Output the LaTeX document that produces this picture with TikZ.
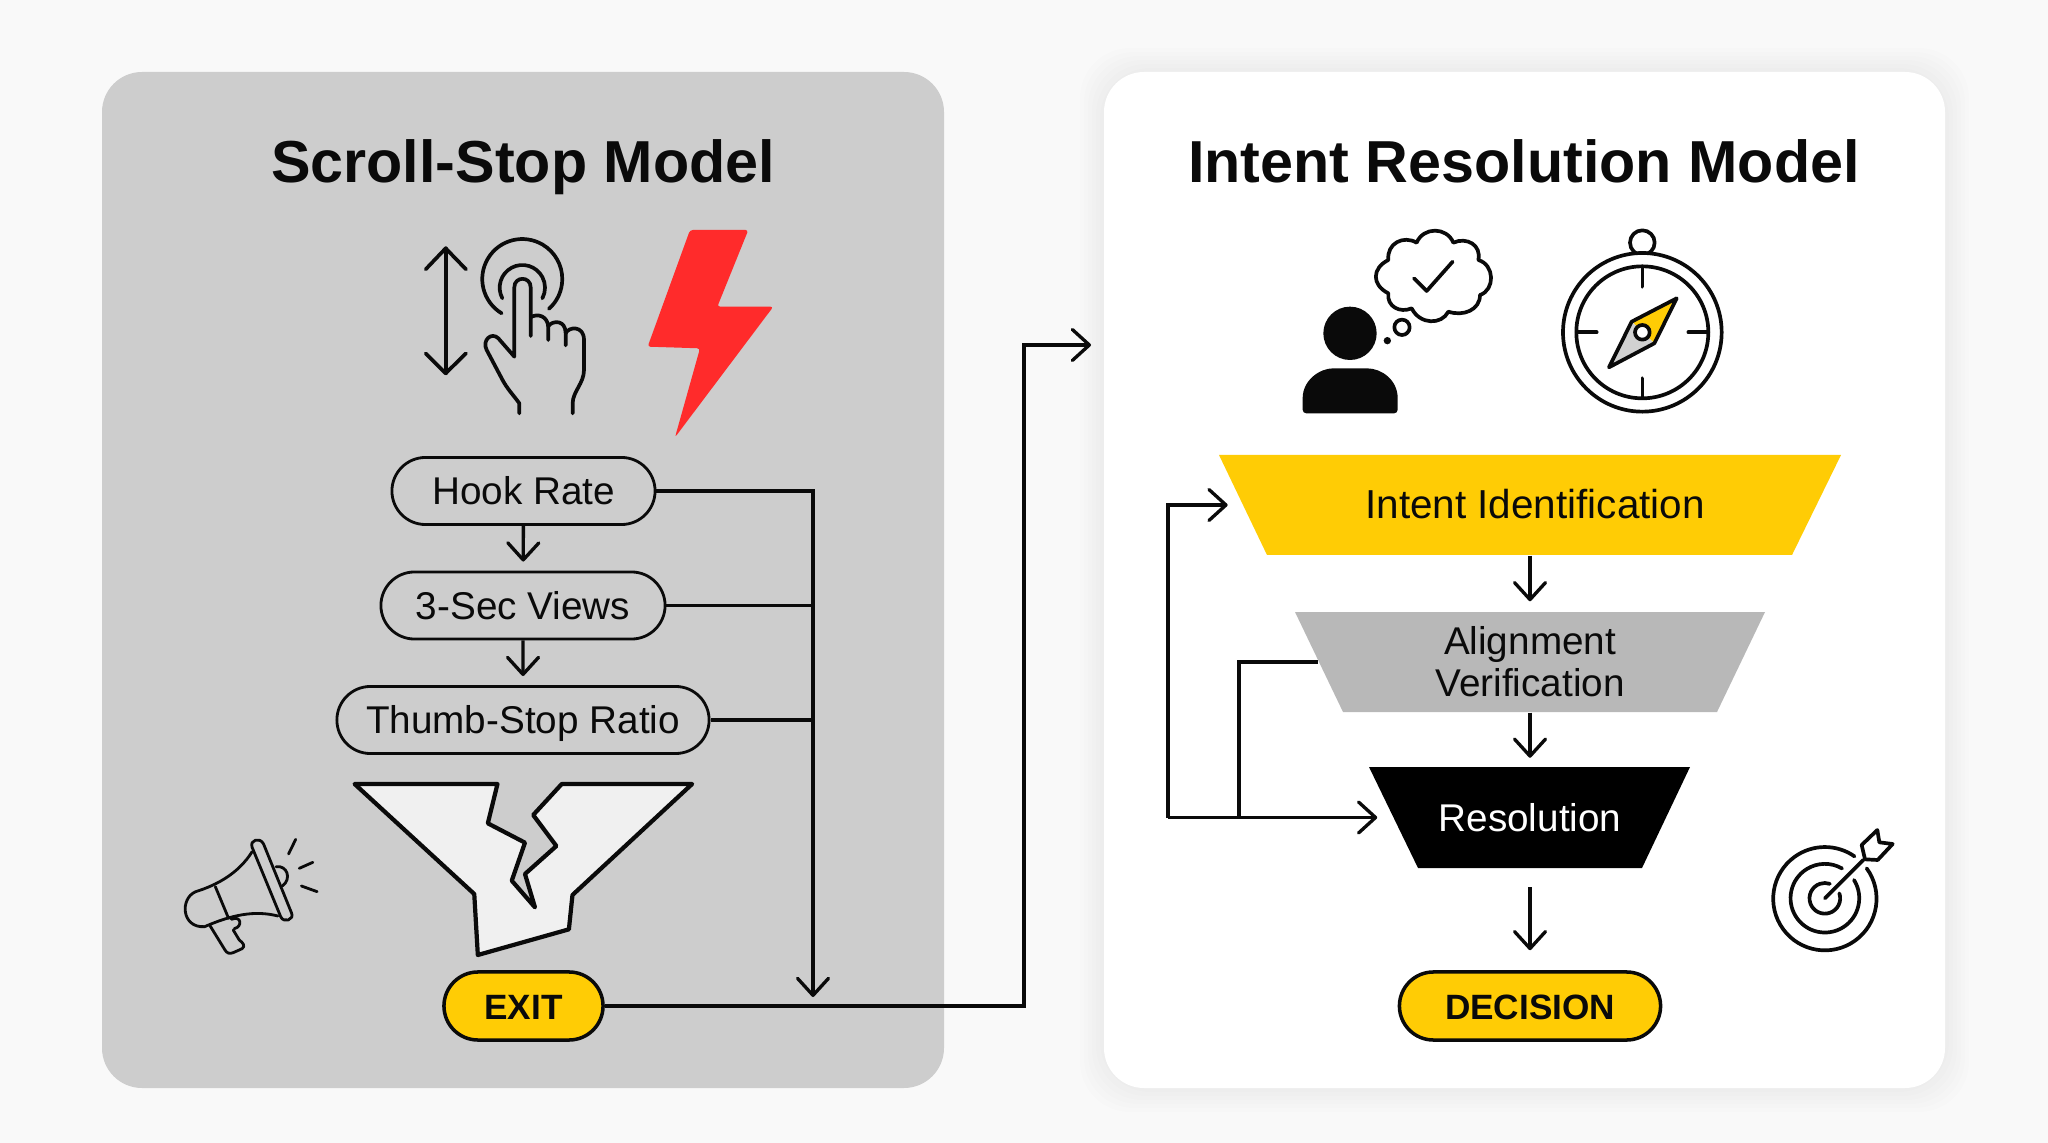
\documentclass[tikz,border=0pt]{standalone}
\usepackage{fontspec}
\setmainfont{Liberation Sans}
\usetikzlibrary{arrows.meta,shapes.misc}
\definecolor{pagebg}{HTML}{F9F9F9}
\definecolor{panelgray}{HTML}{CDCDCD}
\definecolor{signyellow}{HTML}{FFCC05}
\definecolor{midgray}{HTML}{B8B8B8}
\definecolor{boltred}{HTML}{FF2B2B}
\definecolor{ink}{HTML}{0A0A0A}
\tikzset{
  panel/.style={rounded corners=4mm},
  heading/.style={anchor=base,text=ink,font=\fontsize{16.85}{20}\selectfont\bfseries},
  pill/.style={rounded rectangle,draw=ink,line width=.8pt,inner sep=0pt,minimum height=.67cm,text=ink,
    text height=.27cm,text depth=0pt,font=\fontsize{11}{13}\selectfont},
  endpill/.style={pill,fill=signyellow,line width=1pt,font=\fontsize{10}{12}\selectfont\bfseries},
  stage/.style={minimum height=1cm,inner sep=0pt,align=center,text=ink,font=\fontsize{11}{11.9}\selectfont},
  oneline/.style={text height=.27cm,text depth=0pt},
  link/.style={draw=ink,line width=.95pt},
  flow/.style={link,-{Straight Barb[length=1.7mm,width=3.1mm,round]}},
  icon/.style={draw=ink,line width=1.05pt,line cap=round,line join=round},
  thinicon/.style={icon,line width=.8pt},
}
\begin{document}
\begin{tikzpicture}[x=.01cm,y=-.01cm]
  % Fondo y paneles
  \fill[pagebg] (0,0) rectangle (2048,1143);
  \fill[panel,panelgray] (102,72) rectangle (944,1088);
  \foreach \s in {4,8,...,24}
    \fill[black,opacity=.006,rounded corners=5mm] ({1104-\s},{72-\s}) rectangle ({1945+\s},{1088+\s});
  \fill[panel,white] (1104,72) rectangle (1945,1088);

  % Titulos
  \node[heading] (lefttitle) at (523,183) {Scroll-Stop Model};
  \node[heading] (righttitle) at (1524,183) {Intent Resolution Model};

  % Flechas de scroll, mano y rayo
  \begin{scope}[shift={(380,200)},scale=1/3]
    \draw[icon] (197,145) -- (197,520);
    \draw[icon] (137,208) -- (197,145) -- (258,208);
    \draw[icon] (137,460) -- (197,520) -- (258,460);
    \draw[icon] (365,340) arc[start angle=121,end angle=408,radius=120];
    \draw[icon] (367,295) arc[start angle=152,end angle=388,radius=68];
    \draw[icon] (418,640) -- (418,610) .. controls (400,585) and (380,565) .. (365,535) -- (320,450)
      .. controls (305,420) and (335,395) .. (355,415) -- (403,470) -- (403,262)
      .. controls (403,228) and (452,228) .. (452,262) -- (452,408);
    \draw[icon] (452,352) .. controls (470,340) and (505,345) .. (505,385) -- (505,420);
    \draw[icon] (505,378) .. controls (520,360) and (557,360) .. (557,400) -- (557,436);
    \draw[icon] (557,400) .. controls (565,380) and (612,375) .. (612,420) -- (612,510)
      .. controls (612,550) and (578,575) .. (578,610) -- (578,640);
    \fill[boltred,rounded corners=.8pt] (930,90) -- (1105,90) -- (1012,320) -- (1180,320)
      -- (885,712) -- (960,445) -- (803,440) -- cycle;
  \end{scope}

  % Embudo roto y megafono
  \begin{scope}[shift={(160,760)},xscale=1/2.8,yscale=1/3]
    \draw[fill=black!6,draw=ink,line width=1.2pt,line join=round] (545,72) -- (945,72) -- (918,190) -- (1022,248)
      -- (985,362) -- (1050,442) -- (1022,342) -- (1110,258) -- (1045,165) -- (1125,72)
      -- (1490,72) -- (1155,405) -- (1145,508) -- (890,585) -- (880,402) -- cycle;
    \draw[thinicon] (258,262) -- (338,470) .. controls (345,490) and (378,480) .. (368,458)
      -- (290,252) .. controls (280,230) and (250,240) .. (258,262) -- cycle;
    \draw[thinicon] (325,320) .. controls (355,315) and (370,355) .. (343,378);
    \draw[thinicon] (258,275) .. controls (220,340) and (160,375) .. (100,395)
      .. controls (55,415) and (60,505) .. (125,500) .. controls (200,465) and (265,450) .. (330,468);
    \draw[thinicon] (155,380) -- (192,475);
    \draw[thinicon] (140,497) -- (182,570) .. controls (187,580) and (195,582) .. (205,578)
      -- (230,566) .. controls (240,558) and (232,548) .. (222,540) -- (205,510);
    \draw[thinicon] (200,478) .. controls (228,465) and (232,500) .. (208,506);
    \draw[thinicon] (360,282) -- (380,238) (390,325) -- (428,307) (396,378) -- (440,395);
  \end{scope}

  % Persona con nube y brujula
  \begin{scope}[shift={(1260,210)},scale=1/3]
    \fill[ink] (270,370) circle[radius=80];
    \fill[ink,rounded corners=1pt] (128,610) -- (128,575) .. controls (128,510) and (180,475) .. (230,475)
      -- (310,475) .. controls (365,475) and (413,510) .. (413,575) -- (413,610) -- cycle;
    \fill[ink] (382,392) circle[radius=11];
    \draw[icon] (426,352) circle[radius=23];
    \draw[icon] (470,98) .. controls (490,50) and (560,50) .. (580,98)
      .. controls (620,80) and (665,105) .. (655,150)
      .. controls (705,165) and (705,240) .. (660,255)
      .. controls (660,300) and (610,320) .. (565,305)
      .. controls (545,345) and (480,345) .. (455,295)
      .. controls (420,310) and (380,290) .. (385,250)
      .. controls (335,225) and (335,175) .. (385,150)
      .. controls (380,100) and (430,75) .. (470,98) -- cycle;
    \draw[icon] (462,205) -- (500,243) -- (578,155);
    \draw[icon] (1147,98) circle[radius=37];
    \draw[icon,fill=white] (1147,367) circle[radius=238];
    \draw[icon] (1147,367) circle[radius=198];
    \draw[icon] (1147,170) -- (1147,230) (1147,505) -- (1147,562) (950,367) -- (1010,367) (1285,367) -- (1345,367);
    \fill[signyellow] (1250,265) -- (1115,335) -- (1183,400) -- cycle;
    \fill[black!18] (1047,472) -- (1115,335) -- (1183,400) -- cycle;
    \draw[icon] (1250,265) -- (1115,335) -- (1047,472) -- (1183,400) -- cycle;
    \draw[icon,fill=white] (1147,367) circle[radius=22];
  \end{scope}

  % Diana
  \begin{scope}[shift={(1740,810)},scale=1/3]
    \draw[icon] (380,175) arc[start angle=-36,end angle=305,radius=155];
    \draw[icon] (342,210) arc[start angle=-32,end angle=300,radius=103];
    \draw[icon] (298,250) arc[start angle=-19,end angle=289,radius=46];
    \draw[icon] (255,265) -- (370,150);
    \draw[icon] (365,105) -- (412,60) -- (418,97) -- (458,102) -- (413,150) -- (375,148) -- cycle;
  \end{scope}

  % Nodos del modelo izquierdo
  \node[pill,minimum width=2.63cm] (hook) at (523.5,491) {Hook Rate};
  \node[pill,minimum width=2.84cm] (views) at (523,605.5) {3-Sec Views};
  \node[pill,minimum width=3.72cm] (thumb) at (523,720) {Thumb-Stop Ratio};
  \node[endpill,minimum width=1.59cm,minimum height=.68cm] (exit) at (523.5,1006) {EXIT};

  % Embudo del modelo derecho
  \fill[signyellow] (1219,455) -- (1841,455) -- (1792,555) -- (1267,555) -- cycle;
  \fill[midgray] (1295,612) -- (1765,612) -- (1717,712) -- (1343,712) -- cycle;
  \fill[black] (1369,767) -- (1690,767) -- (1642,868) -- (1418,868) -- cycle;

  % Nodos del modelo derecho
  \node[stage,oneline,minimum width=5.73cm] (intent) at (1530,505) {\fontsize{11.5}{13}\selectfont\hspace*{.1cm}Intent Identification};
  \node[stage,minimum width=4.22cm] (alignment) at (1530,662) {Alignment\\Verification};
  \node[stage,oneline,text=white,minimum width=2.72cm] (resolution) at (1530,817.5) {Resolution};
  \node[endpill,minimum width=2.61cm,minimum height=.68cm] (decision) at (1530,1006) {DECISION};

  % Conectores izquierda
  \coordinate (busend) at (813,997);
  \coordinate (turn) at (1024,345);
  \coordinate (entry) at (1091,345);
  \draw[flow,shorten >=.09cm] (hook) -- (views);
  \draw[flow,shorten >=.09cm] (views) -- (thumb);
  \draw[flow] (hook.east) -| (busend);
  \draw[link] (views.east) -- (views.east -| busend);
  \draw[link] (thumb.east) -- (thumb.east -| busend);
  \draw[flow] (exit.east) -| (turn) -- (entry);

  % Conectores derecha
  \coordinate (loopcorner) at (1168,817.5);
  \coordinate (loopjoin) at (1239,817.5);
  \draw[flow,shorten >=.1cm] (intent.south) -- (alignment.north);
  \draw[flow,shorten >=.09cm] (alignment.south) -- (resolution.north);
  \draw[flow,shorten <=.19cm,shorten >=.2cm] (resolution.south) -- (decision.north);
  \draw[flow,shorten >=.15cm] (loopcorner) |- (intent.west);
  \draw[flow,shorten >=.16cm] (loopcorner) -- (resolution.west);
  \draw[link] (alignment.west) -| (loopjoin);
\end{tikzpicture}
\end{document}
